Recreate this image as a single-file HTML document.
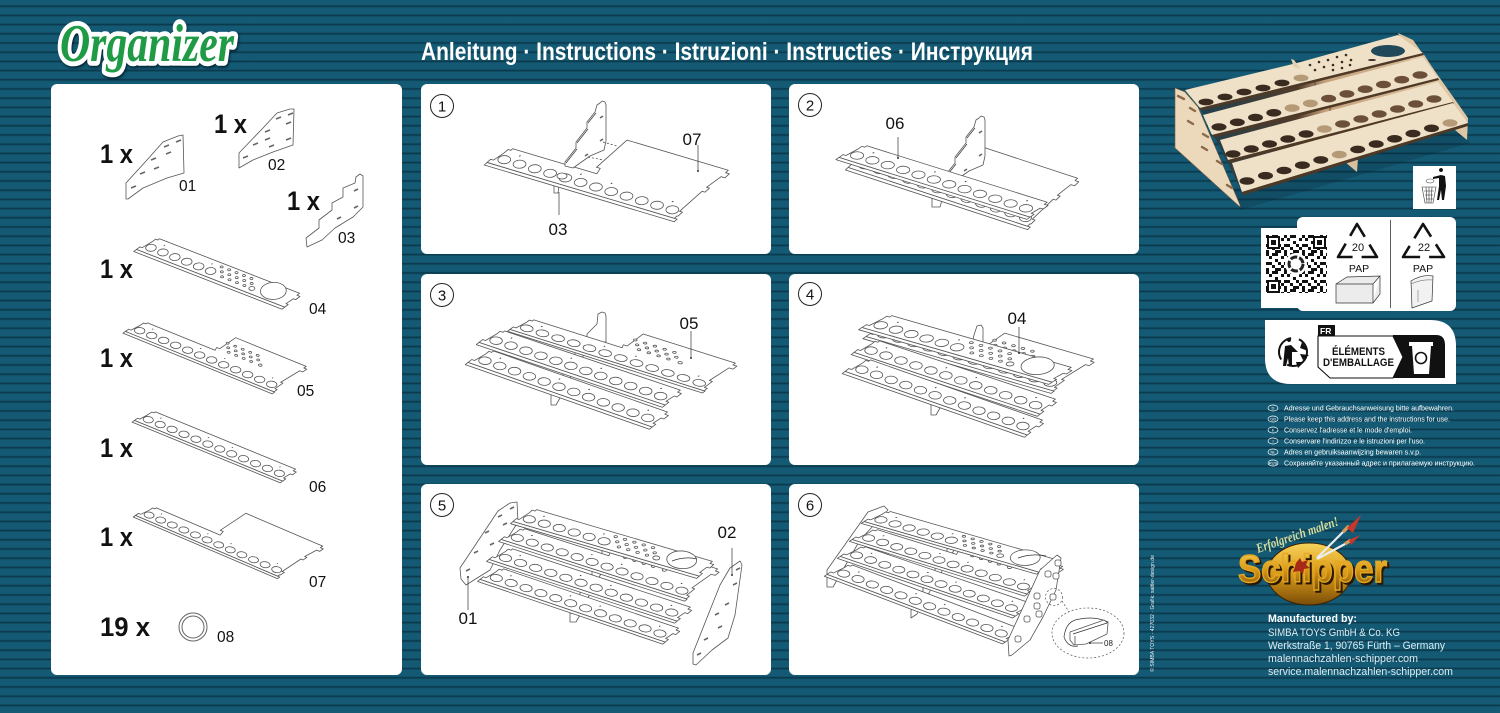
<!DOCTYPE html>
<html lang="de"><head><meta charset="utf-8"><title>Organizer</title>
<style>
html,body{margin:0;padding:0;width:1500px;height:713px;overflow:hidden;background:#145a74}
body{background:repeating-linear-gradient(180deg,#145a74 0,#145a74 4.5px,#0f4a60 5.4px,#0a3347 6.1px,#0f4a60 7px,#145a74 7.9px,#145a74 9.2px)}
svg{position:absolute;left:0;top:0;display:block}
text{font-family:"Liberation Sans","DejaVu Sans",sans-serif}
.card{fill:#fff}
defs *{vector-effect:non-scaling-stroke}
.o{fill:#fff;stroke:#555;stroke-width:.8;stroke-linejoin:round;vector-effect:non-scaling-stroke}
.h{fill:#fff;stroke:#555;stroke-width:.8;vector-effect:non-scaling-stroke}
.d{fill:#333;stroke:none}
.sl{fill:none;stroke:#666;stroke-width:1.6}
.l{fill:none;stroke:#333;stroke-width:.7}
.lb{font-size:15.5px;fill:#111}
.lb2{font-size:17px;fill:#111;text-anchor:middle}
.qty{font-size:27px;font-weight:bold;fill:#111}
.n{font-size:15px;fill:#111;text-anchor:middle}
.c{fill:#fff;stroke:#222;stroke-width:1}
.small{font-size:7px;fill:#fff}
.maker{font-size:11px;fill:#dcecf3}
</style></head>
<body>
<svg width="1500" height="713" viewBox="0 0 1500 713" xmlns="http://www.w3.org/2000/svg">
<defs>
<g id="h12">
<circle class="h" r="1" transform="matrix(2.45 -.95 1.8 1.9 4.5 6.3)"/><circle class="h" r="1" transform="matrix(2.45 -.95 1.8 1.9 12.5 6.3)"/><circle class="h" r="1" transform="matrix(2.45 -.95 1.8 1.9 20.5 6.3)"/><circle class="h" r="1" transform="matrix(2.45 -.95 1.8 1.9 28.5 6.3)"/><circle class="h" r="1" transform="matrix(2.45 -.95 1.8 1.9 36.5 6.3)"/><circle class="h" r="1" transform="matrix(2.45 -.95 1.8 1.9 44.5 6.3)"/>
<circle class="d" cx="9" cy="2.4" r=".35"/><circle class="d" cx="41" cy="2.4" r=".35"/>
</g>
<g id="h6b">
<circle class="h" r="1" transform="matrix(2.45 -.95 1.8 1.9 52.5 6.3)"/><circle class="h" r="1" transform="matrix(2.45 -.95 1.8 1.9 60.5 6.3)"/><circle class="h" r="1" transform="matrix(2.45 -.95 1.8 1.9 68.5 6.3)"/><circle class="h" r="1" transform="matrix(2.45 -.95 1.8 1.9 76.5 6.3)"/><circle class="h" r="1" transform="matrix(2.45 -.95 1.8 1.9 84.5 6.3)"/><circle class="h" r="1" transform="matrix(2.45 -.95 1.8 1.9 92.5 6.3)"/>
<circle class="d" cx="57" cy="2.4" r=".35"/><circle class="d" cx="89" cy="2.4" r=".35"/>
</g>
<g id="g">
<circle class="h" r="1" transform="matrix(.7 -.27 .52 .55 47 2)"/><circle class="h" r="1" transform="matrix(.7 -.27 .52 .55 52 2)"/><circle class="h" r="1" transform="matrix(.7 -.27 .52 .55 57 2)"/><circle class="h" r="1" transform="matrix(.7 -.27 .52 .55 62 2)"/><circle class="h" r="1" transform="matrix(.7 -.27 .52 .55 67 2)"/>
<circle class="h" r="1" transform="matrix(.7 -.27 .52 .55 50 4.5)"/><circle class="h" r="1" transform="matrix(.7 -.27 .52 .55 55 4.5)"/><circle class="h" r="1" transform="matrix(.7 -.27 .52 .55 60 4.5)"/><circle class="h" r="1" transform="matrix(.7 -.27 .52 .55 65 4.5)"/><circle class="h" r="1" transform="matrix(.7 -.27 .52 .55 70 4.5)"/>
<circle class="h" r="1" transform="matrix(.7 -.27 .52 .55 53 7)"/><circle class="h" r="1" transform="matrix(.7 -.27 .52 .55 58 7)"/><circle class="h" r="1" transform="matrix(.7 -.27 .52 .55 63 7)"/><circle class="h" r="1" transform="matrix(.7 -.27 .52 .55 68 7)"/>
</g>
<path id="edge" class="o" d="M-1,10 L-1,11.6 L98.5,11.6 L98.5,10 Z"/>
<g id="s06"><use href="#edge"/><path class="o" d="M-1,10 L-1,8 L.5,8 L1.5,3 L1.5,1 L3,1 L3,0 L97,0 L97,1.5 L99,1.5 L99,4 L97.5,4 L97,8 L98.5,8 L98.5,10 Z"/><use href="#h12"/><use href="#h6b"/></g>
<g id="s07"><use href="#edge"/><path class="o" d="M-1,10 L-1,8 L.5,8 L1.5,3 L1.5,1 L3,1 L3,0 L47,0 L46,-3 L44,-3 L44,-20 L97,-20 L97,-18.5 L99,-18.5 L99,-16 L97,-16 L96,-9 L97.5,-9 L97.5,-6.5 L96,-6.5 L96,6 L97.5,6 L97.5,8.5 L97,8.5 L97,10 Z"/><use href="#h12"/><use href="#h6b"/></g>
<g id="s05"><use href="#edge"/><path class="o" d="M-1,10 L-1,8 L.5,8 L1.5,3 L1.5,1 L3,1 L3,0 L48,0 L47,-2 L49,-2 L49,-12 L96,-12 L96,-10.5 L98,-10.5 L98,-8 L96,-8 L95,3 L96.5,3 L96.5,8 L98,8 L98,10 Z"/><use href="#h12"/><use href="#h6b"/><use href="#g" x="2" y="-9"/><circle class="h" r="1" transform="matrix(.85 -.33 .63 .66 76 -2)"/></g>
<g id="s04"><use href="#edge"/><path class="o" d="M-1,10 L-1,8 L.5,8 L1.5,3 L1.5,1 L3,1 L3,0 L97,0 L97,1.5 L99,1.5 L99,4 L97.5,4 L97,8 L98.5,8 L98.5,10 Z"/><use href="#h12"/><use href="#g"/><circle class="h" r="1" transform="matrix(1.4 -.55 1 1.05 73 7)"/><circle class="h" r="1" transform="matrix(6 -2.3 4.4 4.6 84 4)"/></g>
<g id="wall"><path class="o" d="M600,103 L602,101 L605,102 L606,105 L606,141 L604,150 L590,156 L573,168 L565,166 L565,162 L576,148 L576,142 L587,128 L587,122 L595,112 L597,105 Z"/><path class="l" d="M566,163 L577,149 M577,143 L588,129 M588,123 L596,113"/><path class="sl" d="M600,118 L603,116 M600,141 L603,139 M585,156 L588,154"/></g>
<pattern id="qr" width="18" height="18" patternUnits="userSpaceOnUse" x="1266" y="235"><rect width="18" height="18" fill="#fff"/><path fill="#111" d="M0 0h3v3H0zM6 0h6v3H6zM15 3h3v3h-3zM3 3h3v3H3zM9 6h3v3H9zM0 9h6v3H0zM12 9h3v3h-3zM6 12h3v3H6zM15 12h3v3h-3zM0 15h3v3H0zM9 15h6v3H9z"/></pattern>
<linearGradient id="gold" x1="0" y1="0" x2="0" y2="1"><stop offset="0" stop-color="#f7d25a"/><stop offset=".5" stop-color="#d99a18"/><stop offset="1" stop-color="#7a4d08"/></linearGradient>
<linearGradient id="back" gradientUnits="userSpaceOnUse" x1="1210" y1="0" x2="1440" y2="0"><stop offset="0" stop-color="#24404a"/><stop offset=".38" stop-color="#4f3b2b"/><stop offset=".5" stop-color="#c4a27c"/><stop offset="1" stop-color="#dcc3a0"/></linearGradient>
</defs>

<!-- logo + title -->
<g style="filter:drop-shadow(1px 2px 1px rgba(0,20,30,.7))">
<text transform="translate(60,61) scale(1,1.2)" font-size="44" font-weight="bold" font-style="italic" textLength="174" lengthAdjust="spacingAndGlyphs" style="font-family:'Liberation Serif',serif;paint-order:stroke" fill="#1f9a45" stroke="#fff" stroke-width="8" stroke-linejoin="round">Organizer</text>
</g>
<text x="421" y="60" font-size="25" font-weight="bold" fill="#fff" textLength="612" lengthAdjust="spacingAndGlyphs">Anleitung · Instructions · Istruzioni · Instructies · Инструкция</text>

<!-- cards -->
<rect class="card" x="51" y="84" width="351" height="591" rx="6"/>
<rect class="card" x="421" y="84" width="350" height="170" rx="6"/>
<rect class="card" x="789" y="84" width="350" height="170" rx="6"/>
<rect class="card" x="421" y="274" width="350" height="191" rx="6"/>
<rect class="card" x="789" y="274" width="350" height="191" rx="6"/>
<rect class="card" x="421" y="484" width="350" height="191" rx="6"/>
<rect class="card" x="789" y="484" width="350" height="191" rx="6"/>

<!-- parts list -->
<text class="qty" x="100" y="163" textLength="33" lengthAdjust="spacingAndGlyphs">1 x</text>
<text class="qty" x="214" y="133" textLength="33" lengthAdjust="spacingAndGlyphs">1 x</text>
<text class="qty" x="287" y="210" textLength="33" lengthAdjust="spacingAndGlyphs">1 x</text>
<text class="qty" x="100" y="278" textLength="33" lengthAdjust="spacingAndGlyphs">1 x</text>
<text class="qty" x="100" y="367" textLength="33" lengthAdjust="spacingAndGlyphs">1 x</text>
<text class="qty" x="100" y="457" textLength="33" lengthAdjust="spacingAndGlyphs">1 x</text>
<text class="qty" x="100" y="546" textLength="33" lengthAdjust="spacingAndGlyphs">1 x</text>
<text class="qty" x="100" y="636" textLength="50" lengthAdjust="spacingAndGlyphs">19 x</text>

<path class="o" d="M126,183 L126,199 L128,199 L143,188 L167,178 L184,173 L183,135 L178,136 L163,142 L147,160 Z"/>
<path class="sl" d="M131,188l5,-2M140,174l5,-2M151,160l5,-2M154,169l5,-2M166,154l5,-2M164,147l5,-2M176,142l5,-2"/>
<text class="lb" x="179" y="191">01</text>
<path class="o" d="M239,153 L239,168 L253,160 L273,152 L293,145 L294,109 L290,109 L277,113 L263,128 Z"/>
<path class="sl" d="M243,158l5,-2M253,145l5,-2M265,132l5,-2M269,147l5,-2M265,140l5,-2M286,140l5,-2M286,124l5,-2M288,115l5,-2M276,119l5,-2"/>
<text class="lb" x="268" y="170">02</text>
<path class="o" d="M306,238 L307,247 L322,240 L335,228 L353,217 L363,207 L363,176 L360,174 L356,177 L355,183 L343,188 L343,197 L332,203 L332,210 L319,220 L319,228 Z"/>
<path class="sl" d="M354,191l4,-2M354,208l4,-2M337,219l4,-2"/>
<text class="lb" x="338" y="243">03</text>
<use href="#s04" transform="matrix(1.49 .58 -1.7 1.3 155 237)"/>
<text class="lb" x="309" y="314">04</text>
<use href="#s05" transform="matrix(1.5 .61 -1.6 1.1 143 321)"/>
<text class="lb" x="297" y="396">05</text>
<use href="#s06" transform="matrix(1.49 .61 -1.5 1.1 151 410)"/>
<text class="lb" x="309" y="492">06</text>
<use href="#s07" transform="matrix(1.45 .62 -1.5 1 152 506)"/>
<text class="lb" x="309" y="587">07</text>
<circle cx="193" cy="627" r="14" fill="none" stroke="#666" stroke-width="1"/>
<circle cx="193" cy="627" r="11" fill="none" stroke="#666" stroke-width="1"/>
<text class="lb" x="217" y="642">08</text>

<!-- step numbers -->
<circle class="c" cx="442" cy="106" r="11.5"/><text class="n" x="442" y="111.5">1</text>
<circle class="c" cx="810" cy="105" r="11.5"/><text class="n" x="810" y="110.5">2</text>
<circle class="c" cx="442" cy="295" r="11.5"/><text class="n" x="442" y="300.5">3</text>
<circle class="c" cx="810" cy="294" r="11.5"/><text class="n" x="810" y="299.5">4</text>
<circle class="c" cx="442" cy="505" r="11.5"/><text class="n" x="442" y="510.5">5</text>
<circle class="c" cx="810" cy="505" r="11.5"/><text class="n" x="810" y="510.5">6</text>

<!-- step 1 -->
<path class="o" d="M554,183 L554,193 L558,193 L559,186 Z"/>
<use href="#s07" transform="matrix(1.91 .57 -1.8 1.6 507 147)"/>
<use href="#wall"/>
<path class="l" stroke-dasharray="2 2" d="M603,142 L617,146 M588,157 L603,160"/>
<path class="l" d="M559,192 L559,215 M698,145 L698,171"/><circle class="d" cx="698" cy="171" r="1"/>
<ellipse class="h" cx="562" cy="176" rx="5" ry="3"/>
<text class="lb2" x="558" y="235">03</text>
<text class="lb2" x="692" y="145">07</text>

<!-- step 2 -->
<path class="o" d="M932,197 L932,207 L940,207 L942,200 Z"/>
<use href="#s07" transform="matrix(1.83 .6 -1.67 1.6 866.7 152)"/>
<use href="#wall" transform="translate(379,15)"/>
<use href="#s06" transform="matrix(1.92 .6 -2 1.4 861 144)"/>
<path class="l" d="M898,137 L898,158"/><circle class="d" cx="898" cy="158" r="1"/>
<text class="lb2" x="895" y="129">06</text>

<!-- step 3 -->
<path class="o" d="M551,393 L551,405 L556,405 L560,398 Z"/>
<path class="o" d="M563,372 L563,380 L568,380 L572,375 Z"/>
<path class="o" d="M575,352 L575,360 L580,360 L584,355 Z"/>
<path class="o" d="M598,314 L602,312 L605,313 L606,316 L606,342 L587,342 L587,334 L597,324 Z"/>
<use href="#s05" transform="matrix(1.96 .62 -1.6 1.2 528 318)"/>
<use href="#s06" transform="matrix(1.87 .63 -1.8 1.4 499 329)"/>
<use href="#s06" transform="matrix(1.85 .65 -1.8 1.4 488 349)"/>
<path class="l" d="M691,331 L691,358"/><circle class="d" cx="691" cy="358" r="1"/>
<text class="lb2" x="689" y="329">05</text>

<!-- step 4 -->
<path class="o" d="M931,403 L931,415 L936,415 L940,408 Z"/>
<path class="o" d="M942,381 L942,390 L947,390 L951,384 Z"/>
<path class="o" d="M954,362 L954,370 L959,370 L963,365 Z"/>
<path class="o" d="M974,335 L977,326 L981,325 L983,328 L983,345 L972,345 Z"/>
<use href="#s05" transform="matrix(1.89 .55 -2 1.4 888 323)"/>
<use href="#s04" transform="matrix(1.91 .55 -2.2 1.4 886 314)"/>
<use href="#s06" transform="matrix(1.87 .62 -1.8 1.4 874 339)"/>
<use href="#s06" transform="matrix(1.83 .64 -1.8 1.4 865 358)"/>
<path class="l" d="M1019,327 L1019,353"/><circle class="d" cx="1019" cy="353" r="1"/>
<text class="lb2" x="1017" y="324">04</text>

<!-- step 5 -->
<path class="o" d="M570,613 L570,622 L576,622 L580,615 Z"/>
<path class="o" d="M580,592 L580,601 L586,601 L590,594 Z"/>
<path class="o" d="M592,570 L592,579 L598,579 L602,572 Z"/>
<path class="o" d="M602,550 L602,559 L608,559 L612,552 Z"/>
<path class="o" d="M460,568 L461,579 L466,585 L490,570 L500,550 L518,522 L517,502 L510,503 L498,511 Z"/>
<path class="sl" d="M466,571l4,-2M474,553l4,-2M485,533l4,-2M490,545l4,-2M498,517l4,-2M503,525l4,-2M510,509l4,-2"/>
<use href="#s05" transform="matrix(1.87 .6 -1.6 1.3 519 527)"/>
<use href="#s04" transform="matrix(1.87 .55 -1.6 1.4 531 508)"/>
<path class="l" d="M672,561 Q685,556 697,559"/>
<use href="#s06" transform="matrix(1.89 .62 -1.6 1.3 507 547)"/>
<use href="#s06" transform="matrix(1.86 .63 -1.6 1.3 498 567)"/>
<path class="o" d="M693,653 L693,664 L696,665 L712,650 L728,638 L735,615 L742,565 L740,561 L730,568 L720,585 Z"/>
<path class="sl" d="M697,655l4,-2M704,640l4,-2M715,615l4,-2M718,628l4,-2M725,605l4,-2M733,585l4,-2M736,570l4,-2"/>
<path class="l" d="M468,577 L468,610 M732,548 L732,575"/><circle class="d" cx="468" cy="577" r="1"/><circle class="d" cx="732" cy="575" r="1"/>
<text class="lb2" x="468" y="624">01</text>
<text class="lb2" x="727" y="538">02</text>

<!-- step 6 -->
<path class="o" d="M827,570 L868,512 L884,506 L888,510 L860,540 L833,587 L827,587 Z"/>
<path class="o" d="M911,610 L911,618 L917,614 L921,606 Z"/>
<path class="o" d="M923,588 L923,597 L929,593 L933,585 Z"/>
<path class="o" d="M935,568 L935,577 L941,573 L945,565 Z"/>
<path class="o" d="M947,548 L947,556 L953,552 L957,545 Z"/>
<use href="#s05" transform="matrix(1.76 .55 -1.8 1.2 872 528)"/>
<use href="#s04" transform="matrix(1.76 .51 -1.9 1.2 885 510)"/>
<path class="l" d="M1018,558 Q1032,553 1046,556"/>
<use href="#s06" transform="matrix(1.76 .6 -1.8 1.2 860 545)"/>
<use href="#s06" transform="matrix(1.79 .68 -1.8 1.2 847 563)"/>
<path class="o" d="M1008,640 L1009,656 L1012,655 L1030,640 L1043,617 L1056,590 L1061,558 L1057,555 L1040,570 Z"/>
<g>
<rect class="o" x="1055" y="560" width="6" height="6" rx="2"/><rect class="o" x="1045" y="571" width="6" height="6" rx="2"/><rect class="o" x="1053" y="573" width="6" height="6" rx="2"/><rect class="o" x="1050" y="594" width="6" height="6" rx="2"/><rect class="o" x="1034" y="593" width="6" height="6" rx="2"/><rect class="o" x="1034" y="603" width="6" height="6" rx="2"/><rect class="o" x="1036" y="611" width="6" height="6" rx="2"/><rect class="o" x="1024" y="616" width="6" height="6" rx="2"/><rect class="o" x="1015" y="636" width="6" height="6" rx="2"/>
</g>
<circle cx="1054" cy="597" r="8.5" fill="none" stroke="#555" stroke-width=".7" stroke-dasharray="2 2"/>
<path d="M1062,601 L1069,612" fill="none" stroke="#555" stroke-width=".7" stroke-dasharray="2 2"/>
<ellipse cx="1088" cy="633" rx="36" ry="25" fill="#fff" stroke="#555" stroke-width=".7" stroke-dasharray="2 2"/>
<path class="l" d="M1064,637 Q1066,620 1080,619 Q1095,616 1108,622 L1090,632 M1064,637 Q1068,648 1078,646"/>
<path class="o" d="M1070,632 L1104,620 L1108,623 L1107,634 L1086,644 L1074,645 L1070,640 Z"/>
<path class="l" d="M1073,634 L1107,623 M1075,636 L1075,645"/>
<path class="l" d="M1090,643 L1103,643"/><circle class="d" cx="1090" cy="643" r="1"/>
<text x="1104" y="646" font-size="8" fill="#222">08</text>

<!-- product photo -->
<path fill="#06202c" opacity=".2" d="M1240,210 L1470,143 L1462,128 L1230,190 Z"/>
<path fill="url(#back)" d="M1200,108 L1423,53 L1468,123 L1242,192 Z"/>
<path fill="#e0c7a4" d="M1398,33 L1413,40 L1468,118 L1467,140 L1455,130 L1410,60 Z"/>
<path fill="#d9c09c" d="M1345,162 L1358,158 L1357,172 Z"/>
<path stroke="#5f4430" stroke-width="1" d="M1315,81 V92 M1330,107 V118 M1343,132 V143"/>
<path fill="#efe0c8" d="M1185,90 L1297,63 L1398,35 L1423,53 L1200,108 Z"/>
<path fill="#4e3826" d="M1200,108 L1423,53 L1424,55 L1202,110.5 Z"/>
<path fill="#efe0c8" d="M1203,115 L1423,57 L1438,78 L1212,135 Z"/>
<path fill="#4e3826" d="M1212,135 L1438,78 L1439,80 L1214,137.5 Z"/>
<path fill="#efe0c8" d="M1220,140 L1438,82 L1453,102 L1228,160 Z"/>
<path fill="#4e3826" d="M1228,160 L1453,102 L1454,104 L1230,162.5 Z"/>
<path fill="#efe0c8" d="M1232,163 L1453,103 L1468,123 L1242,192 Z"/>
<path fill="#4e3826" d="M1242,192 L1468,123 L1468,126 L1243,195 Z"/>
<path fill="#ecd9bc" stroke="#7a5c40" stroke-width=".6" d="M1175,88 L1185,92 L1198,107 L1240,205 L1240,207 L1175,148 Z"/>
<path stroke="#8a6a4a" stroke-width="2.4" stroke-linecap="round" fill="none" d="M1178,96l6,3M1190,108l5,3M1188,121l5,3M1203,134l5,3M1202,147l5,3M1217,161l5,3M1227,185l5,3"/>
<g fill="#3a2b20">
<ellipse cx="1247" cy="181" rx="7.5" ry="3.8"/><ellipse cx="1265.5" cy="175.7" rx="7.5" ry="3.8"/><ellipse cx="1284" cy="170.5" rx="7.5" ry="3.8"/><ellipse cx="1302.4" cy="165.2" rx="7.5" ry="3.8"/><ellipse cx="1320.8" cy="159.9" rx="7.5" ry="3.8"/><ellipse cx="1357.7" cy="149.4" rx="7.5" ry="3.8"/><ellipse cx="1376.2" cy="144.1" rx="7.5" ry="3.8"/><ellipse cx="1394.6" cy="138.8" rx="7.5" ry="3.8"/><ellipse cx="1413" cy="133.6" rx="7.5" ry="3.8"/><ellipse cx="1431.5" cy="128.3" rx="7.5" ry="3.8"/>
<ellipse cx="1233" cy="154" rx="7.5" ry="3.8"/><ellipse cx="1251.3" cy="149" rx="7.5" ry="3.8"/><ellipse cx="1269.5" cy="144" rx="7.5" ry="3.8"/><ellipse cx="1287.8" cy="139" rx="7.5" ry="3.8"/><ellipse cx="1306.1" cy="134" rx="7.5" ry="3.8"/>
<ellipse cx="1219" cy="127" rx="7.5" ry="3.8"/><ellipse cx="1237.3" cy="122.3" rx="7.5" ry="3.8"/><ellipse cx="1255.5" cy="117.5" rx="7.5" ry="3.8"/><ellipse cx="1273.8" cy="112.8" rx="7.5" ry="3.8"/>
<ellipse cx="1206" cy="102" rx="7.5" ry="3.4"/><ellipse cx="1225" cy="97" rx="7.5" ry="3.4"/><ellipse cx="1244" cy="92" rx="7.5" ry="3.4"/><ellipse cx="1263" cy="88" rx="7.5" ry="3.4"/><ellipse cx="1282" cy="83" rx="7.5" ry="3.4"/>
</g>
<g fill="#6b4f38">
<ellipse cx="1342.6" cy="124" rx="7.5" ry="3.8"/><ellipse cx="1360.9" cy="119" rx="7.5" ry="3.8"/><ellipse cx="1379.2" cy="114" rx="7.5" ry="3.8"/><ellipse cx="1397.5" cy="109" rx="7.5" ry="3.8"/><ellipse cx="1415.7" cy="104" rx="7.5" ry="3.8"/><ellipse cx="1434" cy="99" rx="7.5" ry="3.8"/>
<ellipse cx="1328.6" cy="98.6" rx="7.5" ry="3.8"/><ellipse cx="1346.9" cy="93.9" rx="7.5" ry="3.8"/><ellipse cx="1365.2" cy="89.2" rx="7.5" ry="3.8"/><ellipse cx="1383.5" cy="84.5" rx="7.5" ry="3.8"/><ellipse cx="1401.7" cy="79.7" rx="7.5" ry="3.8"/><ellipse cx="1420" cy="75" rx="7.5" ry="3.8"/>
</g>
<g fill="#b59a78">
<ellipse cx="1301" cy="78" rx="7.5" ry="3.4"/><ellipse cx="1292.1" cy="108.1" rx="7.5" ry="3.8"/><ellipse cx="1310.4" cy="103.4" rx="7.5" ry="3.8"/><ellipse cx="1324.4" cy="129" rx="7.5" ry="3.8"/><ellipse cx="1339.3" cy="154.6" rx="7.5" ry="3.8"/><ellipse cx="1450" cy="123" rx="7.5" ry="3.8"/>
</g>
<g fill="#3a2b20"><circle cx="1310" cy="65" r="1.3"/><circle cx="1319" cy="62" r="1.3"/><circle cx="1328" cy="60" r="1.3"/><circle cx="1337" cy="57" r="1.3"/><circle cx="1346" cy="55" r="1.3"/><circle cx="1315" cy="70" r="1.3"/><circle cx="1324" cy="67" r="1.3"/><circle cx="1333" cy="65" r="1.3"/><circle cx="1342" cy="62" r="1.3"/><circle cx="1351" cy="60" r="1.3"/><circle cx="1333" cy="70" r="1.3"/><circle cx="1342" cy="68" r="1.3"/><circle cx="1350" cy="65" r="1.3"/><ellipse cx="1372" cy="60" rx="4" ry="1"/></g>
<ellipse cx="1388" cy="51" rx="17" ry="6" fill="#22495a"/>
<path fill="#e4cfae" d="M1291,59 L1294,60 L1301,69 L1294,67 Z"/>
<!-- bin icon -->
<rect x="1413" y="166" width="43" height="43" fill="#fff"/>
<path fill="#111" d="M1441,172 a2,2 0 1 1 .01,0 Z M1433,177 L1441,175 L1445,176 L1446,186 L1444,200 L1442,200 L1441,190 L1439,200 L1437,200 L1439,186 L1439,178 L1433,179 Z"/>
<path fill="none" stroke="#333" stroke-width=".6" d="M1422,187 L1436,187 L1433,203 L1425,203 Z M1424,191 L1434,191 M1425,195 L1433,195 M1426,199 L1433,199 M1426,187 L1427,203 M1429,187 L1429,203 M1432,187 L1431,203"/>
<ellipse cx="1430" cy="181" rx="4" ry="2" fill="none" stroke="#555" stroke-width=".6"/>

<!-- recycling panel -->
<rect x="1261" y="228" width="50" height="80" fill="#fff"/>
<rect x="1297" y="217" width="159" height="94" rx="6" fill="#fff"/>
<rect x="1266" y="235" width="61" height="58" fill="url(#qr)"/>
<g fill="none" stroke="#111" stroke-width="2"><rect x="1268" y="237" width="11" height="11" fill="#fff"/><rect x="1314" y="237" width="11" height="11" fill="#fff"/><rect x="1268" y="281" width="11" height="11" fill="#fff"/></g>
<g fill="#111"><rect x="1271" y="240" width="5" height="5"/><rect x="1317" y="240" width="5" height="5"/><rect x="1271" y="284" width="5" height="5"/></g>
<circle cx="1296" cy="264" r="11" fill="#fff"/><circle cx="1296" cy="264" r="7" fill="none" stroke="#222" stroke-width="3" stroke-dasharray="7 2"/>
<path d="M1357,224 L1377,257 L1338,257 Z" fill="none" stroke="#111" stroke-width="2.6" stroke-dasharray="30 9" stroke-dashoffset="15" stroke-linejoin="round"/>
<text x="1358" y="251" font-size="11" fill="#111" text-anchor="middle">20</text>
<text x="1359" y="272" font-size="10.5" fill="#111" text-anchor="middle">PAP</text>
<path d="M1423,224 L1444,257 L1403,257 Z" fill="none" stroke="#111" stroke-width="2.6" stroke-dasharray="30 9" stroke-dashoffset="15" stroke-linejoin="round"/>
<text x="1424" y="251" font-size="11" fill="#111" text-anchor="middle">22</text>
<text x="1423" y="272" font-size="10.5" fill="#111" text-anchor="middle">PAP</text>
<path d="M1390.5,220 V308" stroke="#333" stroke-width=".8"/>
<path d="M1336,284 L1373,284 L1373,303 L1336,303 Z M1336,284 L1347,277 L1380,276 L1373,284 M1380,276 L1380,294 L1373,303" fill="#ececec" stroke="#333" stroke-width=".7"/>
<path d="M1411,281 Q1422,274 1433,276 L1432,301 L1412,308 Z" fill="#f2f2f2" stroke="#333" stroke-width=".7"/>
<path d="M1411,284 Q1422,279 1433,280 M1418,290 V302" stroke="#777" stroke-width=".6" fill="none"/>

<!-- FR panel -->
<path fill="#fff" d="M1265,320 H1430 Q1456,320 1456,346 V384 H1291 Q1265,384 1265,358 Z"/>
<path d="M1393,335 H1436 Q1445,335 1445,345 V378 H1393 Z" fill="#111"/>
<path d="M1318,336 H1393 L1403,357 L1393,378 H1330 L1318,367 Z" fill="#fff" stroke="#111" stroke-width="1.1"/>
<rect x="1318" y="325" width="17" height="11" fill="#111"/>
<text x="1320" y="334" font-size="8.5" font-weight="bold" fill="#fff">FR</text>
<text x="1332" y="355" font-size="11" font-weight="bold" fill="#111" textLength="53" lengthAdjust="spacingAndGlyphs">ÉLÉMENTS</text>
<text x="1323" y="366" font-size="11" font-weight="bold" fill="#111" textLength="71" lengthAdjust="spacingAndGlyphs">D'EMBALLAGE</text>
<path d="M1409,342 H1433 V346 H1431 L1429,374 H1414 L1412,346 H1409 Z" fill="#fff"/>
<circle cx="1421" cy="358" r="5.5" fill="none" stroke="#111" stroke-width="1.6"/>
<circle cx="1293" cy="352" r="14" fill="none" stroke="#111" stroke-width="2" stroke-dasharray="28 8"/>
<path d="M1289,342 a2,2 0 1 1 .01,0 Z M1285,346 L1291,345 L1298,352 L1292,352 L1292,366 L1289,366 L1288,358 L1286,366 L1283,366 Z M1302,342 L1308,351 L1300,348 Z M1300,354 L1309,355 L1303,360 Z M1296,362 L1304,362 L1298,368 Z" fill="#111"/>

<!-- instruction lines -->
<g fill="none" stroke="#fff" stroke-width=".7"><ellipse cx="1273" cy="408" rx="5" ry="3"/><ellipse cx="1273" cy="419" rx="5" ry="3"/><ellipse cx="1273" cy="430" rx="5" ry="3"/><ellipse cx="1273" cy="441" rx="5" ry="3"/><ellipse cx="1273" cy="452" rx="5" ry="3"/><ellipse cx="1273" cy="463" rx="5" ry="3"/></g>
<g font-size="4" fill="#fff" text-anchor="middle"><text x="1273" y="409.5" font-size="4">D</text><text x="1273" y="420.5" font-size="4">GB</text><text x="1273" y="431.5" font-size="4">F</text><text x="1273" y="442.5" font-size="4">I</text><text x="1273" y="453.5" font-size="4">NL</text><text x="1273" y="464.5" font-size="4">RUS</text></g>
<text class="small" x="1284" y="410.5" textLength="170" lengthAdjust="spacingAndGlyphs">Adresse und Gebrauchsanweisung bitte aufbewahren.</text>
<text class="small" x="1284" y="421.5" textLength="166" lengthAdjust="spacingAndGlyphs">Please keep this address and the instructions for use.</text>
<text class="small" x="1284" y="432.5" textLength="128" lengthAdjust="spacingAndGlyphs">Conservez l'adresse et le mode d'emploi.</text>
<text class="small" x="1284" y="443.5" textLength="141" lengthAdjust="spacingAndGlyphs">Conservare l'indirizzo e le istruzioni per l'uso.</text>
<text class="small" x="1284" y="454.5" textLength="137" lengthAdjust="spacingAndGlyphs">Adres en gebruiksaanwijzing bewaren s.v.p.</text>
<text class="small" x="1284" y="465.5" textLength="191" lengthAdjust="spacingAndGlyphs">Сохраняйте указанный адрес и прилагаемую инструкцию.</text>

<text transform="translate(1154,672) rotate(-90)" font-size="5.5" fill="#e8f2f6" textLength="117" lengthAdjust="spacingAndGlyphs">© SIMBA TOYS - 427032 · Grafik: sattler-design.de</text>

<!-- Schipper logo -->
<ellipse cx="1309" cy="574" rx="42" ry="31" fill="url(#gold)" stroke="#3a2206" stroke-width="1"/>
<text transform="translate(1258,553) rotate(-19)" font-size="13.5" font-weight="bold" font-style="italic" fill="#d9dd9c" textLength="86" lengthAdjust="spacingAndGlyphs" style="font-family:'Liberation Serif',serif">Erfolgreich malen!</text>
<path d="M1317,558 L1343,532 M1317,559 L1345,544" stroke="#e8eef0" stroke-width="2.2" fill="none"/>
<path d="M1343,532 L1349,526 M1345,544 L1351,540" stroke="#d59a5c" stroke-width="3.4" fill="none"/>
<path d="M1347,528 L1361,515 L1353,533 Z M1349,540 L1360,535 L1351,545 Z" fill="#c9362a"/>
<g style="filter:drop-shadow(2px 2px 0 #2a1804)">
<text x="1238" y="582" font-size="39" font-weight="bold" fill="url(#gold)" stroke="#e4a822" stroke-width="1.4" textLength="149" lengthAdjust="spacingAndGlyphs">Schipper</text>
</g>
<path d="M1296,563 l4,-5 2,4 6,-2 -2,5 4,3 -6,1 -1,5 -4,-3 -6,1 2,-5 z" fill="#a72a16"/>

<text class="maker" x="1268" y="622" font-weight="bold" style="fill:#fff" textLength="89" lengthAdjust="spacingAndGlyphs">Manufactured by:</text>
<text class="maker" x="1268" y="636" textLength="132" lengthAdjust="spacingAndGlyphs">SIMBA TOYS GmbH &amp; Co. KG</text>
<text class="maker" x="1268" y="649" textLength="177" lengthAdjust="spacingAndGlyphs">Werkstraße 1, 90765 Fürth – Germany</text>
<text class="maker" x="1268" y="662" textLength="150" lengthAdjust="spacingAndGlyphs">malennachzahlen-schipper.com</text>
<text class="maker" x="1268" y="675" textLength="185" lengthAdjust="spacingAndGlyphs">service.malennachzahlen-schipper.com</text>
</svg>
</body></html>
